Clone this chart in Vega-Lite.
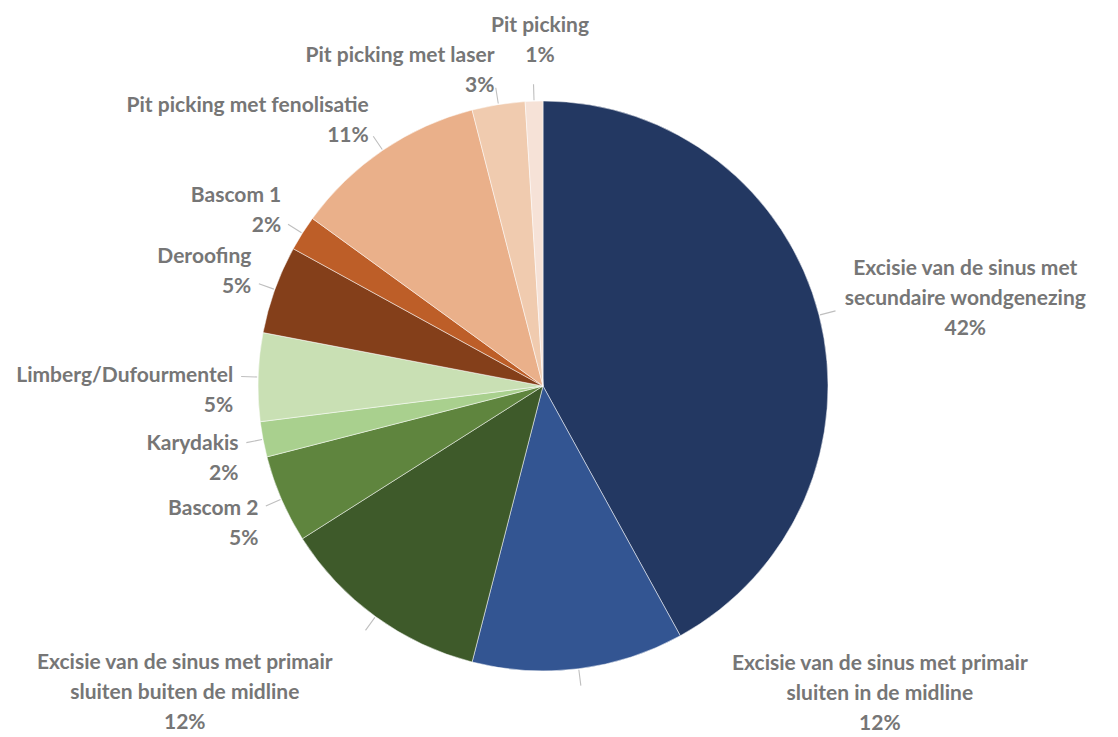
{
  "$schema": "https://vega.github.io/schema/vega-lite/v6.json",
  "width": 1086,
  "height": 702,
  "autosize": {"type": "none"},
  "padding": {"left": 0, "right": 32, "top": 35, "bottom": 0},
  "background": "white",
  "config": {
    "view": {"stroke": null},
    "text": {"lineBreak": "\n", "lineHeight": 30, "font": "Lato", "fontWeight": "bold", "fontSize": 21, "color": "#767676"}
  },
  "data": {
    "values": [
      {"idx": 1, "name": "Excisie van de sinus met\nsecundaire wondgenezing", "value": 42},
      {"idx": 2, "name": "Excisie van de sinus met primair\nsluiten in de midline", "value": 12},
      {"idx": 3, "name": "Excisie van de sinus met primair\nsluiten buiten de midline", "value": 12},
      {"idx": 4, "name": "Bascom 2", "value": 5},
      {"idx": 5, "name": "Karydakis", "value": 2},
      {"idx": 6, "name": "Limberg/Dufourmentel", "value": 5},
      {"idx": 7, "name": "Deroofing", "value": 5},
      {"idx": 8, "name": "Bascom 1", "value": 2},
      {"idx": 9, "name": "Pit picking met fenolisatie", "value": 11},
      {"idx": 10, "name": "Pit picking met laser", "value": 3},
      {"idx": 11, "name": "Pit picking", "value": 1}
    ]
  },
  "transform": [
    {"window": [{"op": "sum", "field": "value", "as": "cum"}], "sort": [{"field": "idx"}], "frame": [null, 0]},
    {"calculate": "datum.cum - datum.value", "as": "start"},
    {"calculate": "datum.cum - datum.value / 2", "as": "mid"},
    {"calculate": "datum.mid - 0.03", "as": "lo"},
    {"calculate": "datum.mid + 0.03", "as": "hi"},
    {"calculate": "datum.name + '\\n' + datum.value + '%'", "as": "label"}
  ],
  "layer": [
    {
      "mark": {"type": "arc", "radius": 285, "stroke": "white", "strokeWidth": 0.5},
      "encoding": {
        "theta": {"field": "start", "type": "quantitative", "scale": {"domain": [0, 100], "nice": false, "zero": true}},
        "theta2": {"field": "cum"},
        "color": {
          "field": "idx",
          "type": "nominal",
          "legend": null,
          "scale": {
            "domain": [1, 2, 3, 4, 5, 6, 7, 8, 9, 10, 11],
            "range": ["#233862", "#335592", "#3e5a2a", "#5f853e", "#a9d08e", "#c9e0b4", "#843f1a", "#bd5e28", "#eab08a", "#f0cbaf", "#f6e2d7"]
          }
        },
        "order": {"field": "idx"}
      }
    },
    {
      "mark": {"type": "arc", "radius": 302, "radius2": 286, "color": "#bfbfbf"},
      "encoding": {
        "theta": {"field": "lo", "type": "quantitative"},
        "theta2": {"field": "hi"}
      }
    },
    {
      "transform": [{"filter": "datum.mid < 45"}],
      "mark": {"type": "text", "radius": 310, "dx": 122, "dy": -40, "align": "center", "baseline": "middle"},
      "encoding": {
        "theta": {"field": "mid", "type": "quantitative", "stack": null},
        "text": {"field": "label"}
      }
    },
    {
      "transform": [{"filter": "datum.mid >= 45 && datum.mid < 55"}],
      "mark": {"type": "text", "radius": 310, "dx": 298, "dy": -30, "align": "center", "baseline": "middle"},
      "encoding": {
        "theta": {"field": "mid", "type": "quantitative", "stack": null},
        "text": {"field": "label"}
      }
    },
    {
      "transform": [{"filter": "datum.mid >= 55 && datum.mid < 65"}],
      "mark": {"type": "text", "radius": 310, "dx": -176, "dy": 26, "align": "center", "baseline": "middle"},
      "encoding": {
        "theta": {"field": "mid", "type": "quantitative", "stack": null},
        "text": {"field": "label"}
      }
    },
    {
      "transform": [{"filter": "datum.mid >= 65 && datum.mid < 78"}],
      "mark": {"type": "text", "radius": 310, "align": "right", "baseline": "middle"},
      "encoding": {
        "theta": {"field": "mid", "type": "quantitative", "stack": null},
        "text": {"field": "label"}
      }
    },
    {
      "transform": [{"filter": "datum.mid >= 78 && datum.mid < 98"}],
      "mark": {"type": "text", "radius": 310, "dy": -24, "align": "right", "baseline": "middle"},
      "encoding": {
        "theta": {"field": "mid", "type": "quantitative", "stack": null},
        "text": {"field": "label"}
      }
    },
    {
      "transform": [{"filter": "datum.mid >= 98"}],
      "mark": {"type": "text", "radius": 350, "dx": 8, "align": "center", "baseline": "bottom"},
      "encoding": {
        "theta": {"field": "mid", "type": "quantitative", "stack": null},
        "text": {"field": "label"}
      }
    }
  ]
}
